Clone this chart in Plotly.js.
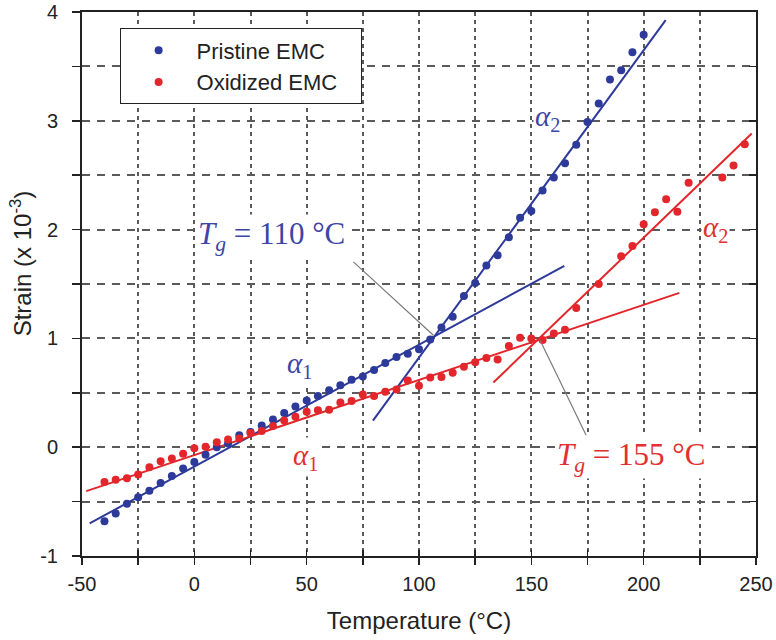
<!DOCTYPE html>
<html>
<head>
<meta charset="utf-8">
<script src="https://cdn.plot.ly/plotly-3.0.1.min.js"></script>
<style>html,body{margin:0;padding:0;background:#fff;}#chart{width:776px;height:640px;}</style>
</head>
<body>
<div id="chart"></div>
<script>
// Pristine EMC (temperature in °C, strain x 10^-3)
const pristineT = [-40,-35,-30,-25,-20,-15,-10,-5,0,5,10,15,20,25,30,35,40,45,50,55,60,65,70,75,80,85,90,95,100,105,110,115,120,125,130,135,140,145,150,155,160,165,170,175,180,185,190,195,200];
const pristineS = [-0.68,-0.61,-0.52,-0.46,-0.40,-0.33,-0.265,-0.196,-0.135,-0.07,0.0,0.034,0.11,0.14,0.20,0.255,0.315,0.375,0.43,0.47,0.524,0.57,0.62,0.65,0.71,0.775,0.83,0.86,0.90,0.99,1.10,1.20,1.39,1.51,1.67,1.765,1.93,2.11,2.17,2.36,2.48,2.61,2.78,2.99,3.16,3.38,3.465,3.63,3.79];

// Oxidized EMC
const oxidizedT = [-40,-35,-30,-25,-20,-15,-10,-5,0,5,10,15,20,25,30,35,40,45,50,55,60,65,70,75,80,85,90,95,100,105,110,115,120,125,130,135,140,145,150,155,160,165,170,180,190,195,200,205,210,215,220,235,240,245];
const oxidizedS = [-0.32,-0.30,-0.285,-0.25,-0.185,-0.13,-0.105,-0.06,-0.01,0.005,0.045,0.07,0.08,0.13,0.15,0.195,0.245,0.28,0.325,0.34,0.345,0.41,0.425,0.485,0.47,0.51,0.53,0.613,0.565,0.64,0.645,0.685,0.74,0.78,0.82,0.805,0.93,1.005,1.0,0.985,1.045,1.08,1.28,1.50,1.755,1.85,2.05,2.16,2.28,2.165,2.43,2.48,2.59,2.785];

// Fitted lines (end points)
const pristineA1T = [-46.6, 164.7], pristineA1S = [-0.70, 1.667];
const pristineA2T = [79.5, 209.8],  pristineA2S = [0.245, 3.925];
const oxidizedA1T = [-48.1, 215.9], oxidizedA1S = [-0.404, 1.418];
const oxidizedA2T = [133.1, 248.1], oxidizedA2S = [0.594, 2.883];

// Leader lines to the Tg labels
const tg1T = [70.8, 106.4], tg1S = [1.703, 1.029];
const tg2T = [153.9, 174.4], tg2S = [0.983, 0.11];

// Tick positions and labels
const tickValsX = [-50,-25,0,25,50,75,100,125,150,175,200,225,250];
const tickTextX = ['-50','','0','','50','','100','','150','','200','','250'];
const tickValsY = [-1,-0.5,0,0.5,1,1.5,2,2.5,3,3.5,4];
const tickTextY = ['-1','','0','','1','','2','','3','','4'];

const BLUE = '#2d3a9a', RED = '#e3262b';
const BLUE_TXT = '#3b46a6', RED_TXT = '#e0302f';
const GRID = '#5a5a5a';

function line(x, y, color) {
  return {x: x, y: y, mode: 'lines', line: {color: color, width: 2}, showlegend: false, hoverinfo: 'skip'};
}

const data = [
  line(pristineA1T, pristineA1S, BLUE),
  line(pristineA2T, pristineA2S, BLUE),
  line(oxidizedA1T, oxidizedA1S, RED),
  line(oxidizedA2T, oxidizedA2S, RED),
  {x: tg1T, y: tg1S, mode: 'lines', line: {color: '#7a7a7a', width: 1.2}, showlegend: false, hoverinfo: 'skip', xaxis: 'x2', yaxis: 'y'},
  {x: tg2T, y: tg2S, mode: 'lines', line: {color: '#7a7a7a', width: 1.2}, showlegend: false, hoverinfo: 'skip', xaxis: 'x', yaxis: 'y2'},
  {x: pristineT, y: pristineS, name: 'Pristine EMC\u00a0\u00a0\u00a0', mode: 'markers', marker: {color: BLUE, size: 8}},
  {x: oxidizedT, y: oxidizedS, name: 'Oxidized EMC\u00a0\u00a0\u00a0', mode: 'markers', marker: {color: RED, size: 8}}
];

const serif = 'Liberation Serif, Times New Roman, serif';
function label(x, y, text, size, color) {
  return {x: x, y: y, xref: 'x', yref: 'y', showarrow: false, text: text, bgcolor: '#fff', borderpad: 1,
          font: {family: serif, size: size, color: color}};
}
const layout = {
  width: 776, height: 640,
  margin: {l: 82, r: 20, t: 12, b: 84},
  paper_bgcolor: '#fff', plot_bgcolor: '#fff',
  font: {family: 'Liberation Sans, Arial, sans-serif', color: '#222'},
  showlegend: true,
  legend: {
    x: 0.0558, y: 0.9697, xanchor: 'left', yanchor: 'top',
    bgcolor: '#fff', bordercolor: '#222', borderwidth: 1,
    font: {size: 22, color: '#222'}, itemwidth: 66
  },
  xaxis: {
    range: [-50, 250], autorange: false,
    tickvals: tickValsX, ticktext: tickTextX, ticks: 'outside', ticklen: 7, tickwidth: 1.5, tickcolor: '#222',
    tickfont: {size: 20, color: '#222'}, ticklabelstandoff: 2,
    showline: true, linecolor: '#222', linewidth: 2, mirror: true,
    showgrid: true, gridcolor: GRID, griddash: '4px,4px', gridwidth: 2,
    zeroline: false,
    title: {text: 'Temperature (°C)', font: {size: 24, color: '#222'}, standoff: 18}
  },
  xaxis2: {
    overlaying: 'x', side: 'bottom', range: [-50, 250], autorange: false,
    tickvals: tickValsX, ticks: 'inside', ticklen: 6, tickwidth: 1.5, tickcolor: '#222',
    showticklabels: false, showgrid: false, zeroline: false, showline: false
  },
  yaxis: {
    range: [-1, 4], autorange: false,
    tickvals: tickValsY, ticktext: tickTextY, ticks: 'outside', ticklen: 8, tickwidth: 1.5, tickcolor: '#222',
    tickfont: {size: 20, color: '#222'}, ticklabelstandoff: 10,
    showline: true, linecolor: '#222', linewidth: 2, mirror: true,
    showgrid: true, gridcolor: GRID, griddash: '8px,7px', gridwidth: 2,
    zeroline: false
  },
  yaxis2: {
    overlaying: 'y', side: 'right', range: [-1, 4], autorange: false,
    tickvals: tickValsY, ticks: 'inside', ticklen: 7, tickwidth: 1.5, tickcolor: '#222',
    showticklabels: false, showgrid: false, zeroline: false, showline: false
  },
  annotations: [
    {x: 0, y: 0.538, xref: 'paper', yref: 'paper', xanchor: 'center', yanchor: 'middle', xshift: -61, textangle: -90, showarrow: false,
     text: 'Strain (x 10<sup>-3</sup>)', font: {size: 24, color: '#222'}},
    label(34.5, 1.94, '<i>T</i><sub><i>g</i></sub> = 110 °C', 31, BLUE_TXT),
    label(194.5, -0.09, '<i>T</i><sub><i>g</i></sub> = 155 °C', 31, RED_TXT),
    label(47, 0.76, '<i>α</i><sub>1</sub>', 29, BLUE_TXT),
    label(49.5, -0.09, '<i>α</i><sub>1</sub>', 29, RED_TXT),
    label(157, 3.03, '<i>α</i><sub>2</sub>', 29, BLUE_TXT),
    label(232, 2.01, '<i>α</i><sub>2</sub>', 29, RED_TXT)
  ]
};

Plotly.newPlot('chart', data, layout, {displayModeBar: false, staticPlot: true});
</script>
</body>
</html>
